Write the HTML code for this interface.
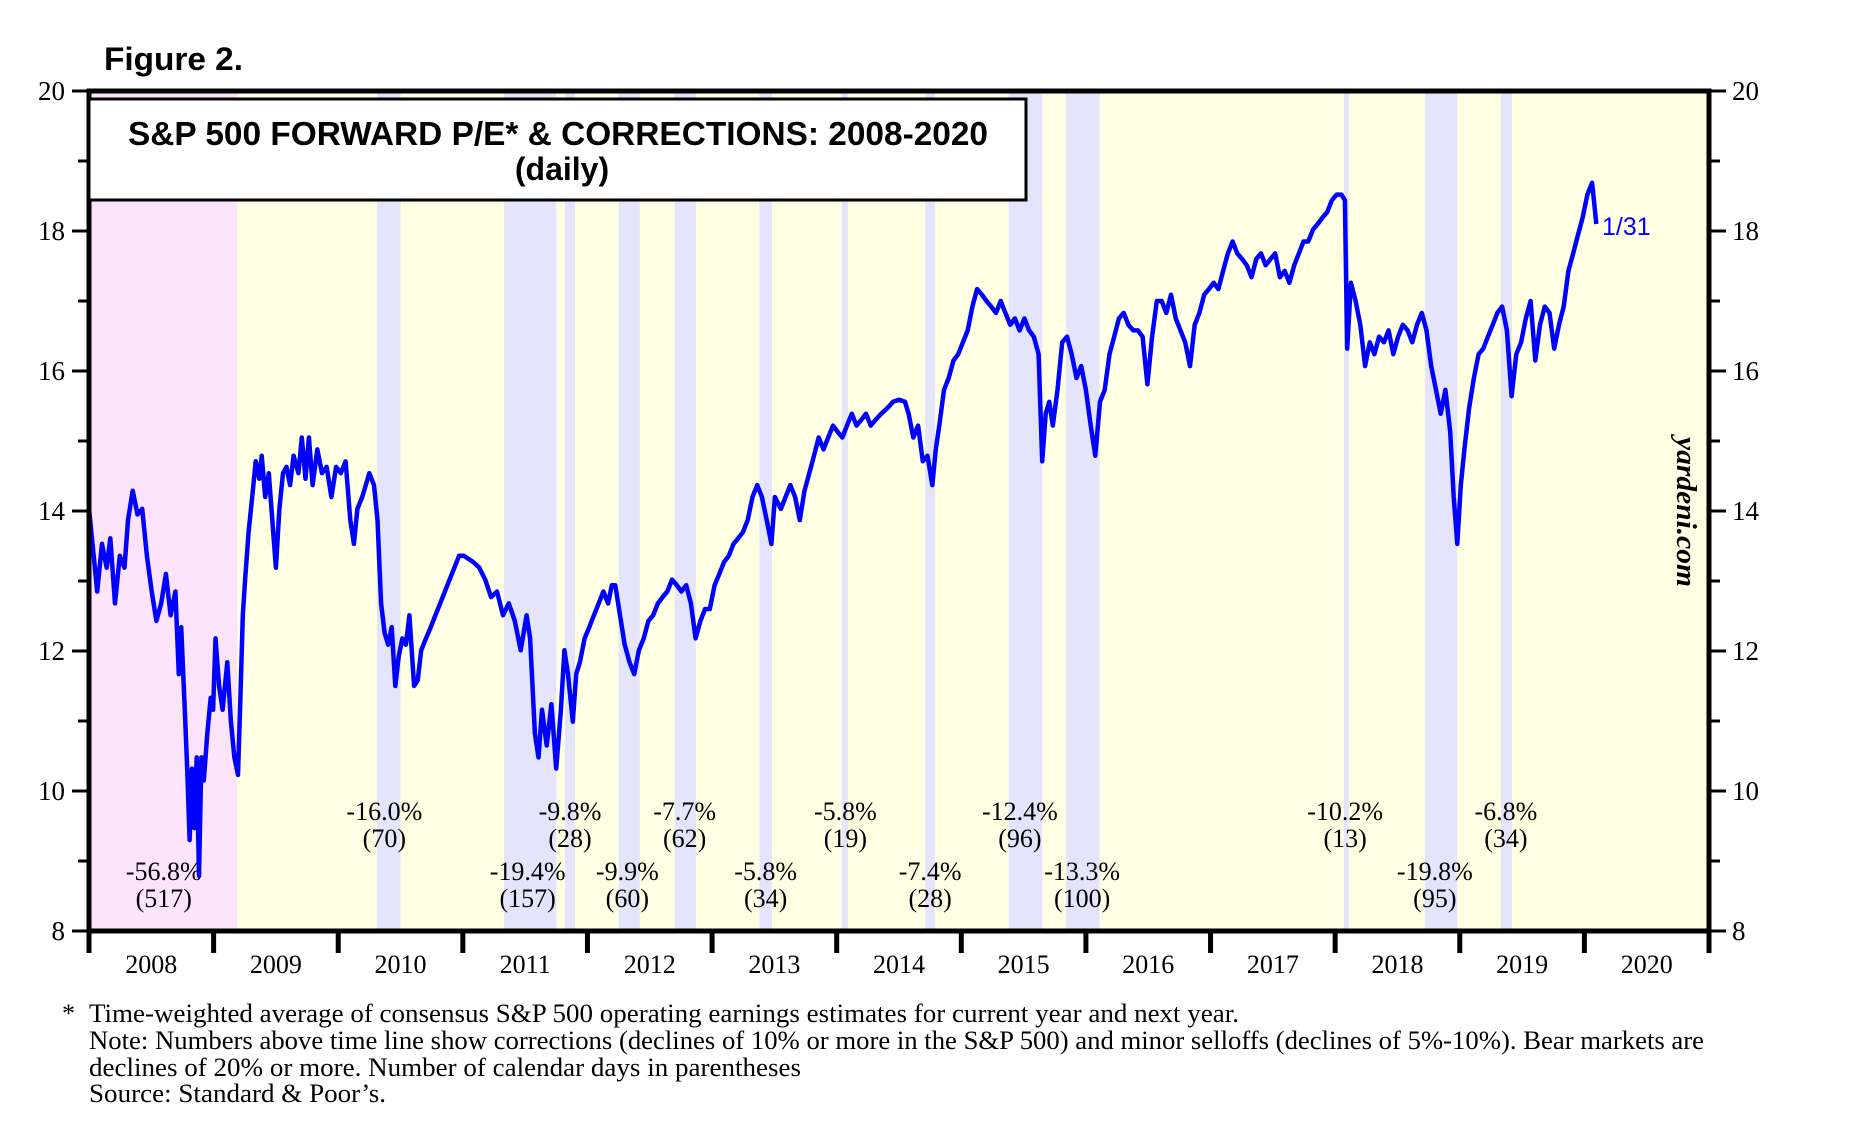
<!DOCTYPE html>
<html><head><meta charset="utf-8"><style>
html,body{margin:0;padding:0;background:#fff;}
svg{display:block;}
</style></head><body>
<svg id="chart" width="1854" height="1125" viewBox="0 0 1854 1125" xmlns="http://www.w3.org/2000/svg" font-family="'Liberation Serif', serif">
<text x="104" y="70" font-family="'Liberation Sans', sans-serif" font-weight="bold" font-size="32" textLength="139" lengthAdjust="spacingAndGlyphs">Figure 2.</text>
<g id="bg"></g>
<g id="grid"></g>
<g id="ann"></g>
<g id="series"></g>
<rect x="89" y="91" width="1620" height="840" fill="none" stroke="#000" stroke-width="5"/>
<rect x="89" y="99" width="937" height="101" fill="#fff" stroke="#000" stroke-width="3"/>
<text x="558" y="145" text-anchor="middle" font-family="'Liberation Sans', sans-serif" font-weight="bold" font-size="33" textLength="860" lengthAdjust="spacingAndGlyphs">S&amp;P 500 FORWARD P/E* &amp; CORRECTIONS: 2008-2020</text>
<text x="562" y="180" text-anchor="middle" font-family="'Liberation Sans', sans-serif" font-weight="bold" font-size="32">(daily)</text>
<text x="1602" y="235" fill="#0000ff" font-family="'Liberation Sans', sans-serif" font-size="25">1/31</text>
<text transform="translate(1677,512) rotate(90)" text-anchor="middle" font-weight="bold" font-style="italic" font-size="28" textLength="150" lengthAdjust="spacingAndGlyphs">yardeni.com</text>
<g font-size="26">
<text x="62" y="1022">*</text>
<text x="89" y="1022" textLength="1150" lengthAdjust="spacingAndGlyphs">Time-weighted average of consensus S&amp;P 500 operating earnings estimates for current year and next year.</text>
<text x="89" y="1049" textLength="1615" lengthAdjust="spacingAndGlyphs">Note: Numbers above time line show corrections (declines of 10% or more in the S&amp;P 500) and minor selloffs (declines of 5%-10%). Bear markets are</text>
<text x="89" y="1076" textLength="712" lengthAdjust="spacingAndGlyphs">declines of 20% or more. Number of calendar days in parentheses</text>
<text x="89" y="1102" textLength="297" lengthAdjust="spacingAndGlyphs">Source: Standard &amp; Poor’s.</text>
</g>
</svg>
<script>
const years = [2008.000,2008.038,2008.066,2008.104,2008.142,2008.171,2008.209,2008.247,2008.285,2008.313,2008.351,2008.389,2008.427,2008.465,2008.503,2008.541,2008.579,2008.617,2008.655,2008.693,2008.721,2008.740,2008.769,2008.788,2008.807,2008.826,2008.845,2008.864,2008.883,2008.902,2008.921,2008.949,2008.977,2008.996,2009.015,2009.044,2009.072,2009.110,2009.139,2009.167,2009.196,2009.215,2009.234,2009.253,2009.281,2009.310,2009.338,2009.367,2009.386,2009.414,2009.443,2009.471,2009.500,2009.528,2009.557,2009.585,2009.614,2009.642,2009.680,2009.708,2009.737,2009.765,2009.794,2009.832,2009.870,2009.907,2009.945,2009.983,2010.021,2010.059,2010.097,2010.126,2010.154,2010.192,2010.221,2010.249,2010.287,2010.315,2010.344,2010.372,2010.401,2010.429,2010.458,2010.486,2010.515,2010.543,2010.571,2010.609,2010.638,2010.666,2010.704,2010.742,2010.780,2010.818,2010.856,2010.894,2010.932,2010.970,2011.008,2011.084,2011.132,2011.179,2011.227,2011.274,2011.322,2011.369,2011.417,2011.464,2011.512,2011.540,2011.578,2011.607,2011.635,2011.673,2011.711,2011.749,2011.787,2011.815,2011.844,2011.882,2011.910,2011.939,2011.977,2012.015,2012.052,2012.090,2012.128,2012.166,2012.195,2012.223,2012.261,2012.299,2012.337,2012.375,2012.413,2012.451,2012.489,2012.527,2012.565,2012.603,2012.641,2012.679,2012.717,2012.754,2012.792,2012.830,2012.868,2012.906,2012.944,2012.982,2013.020,2013.058,2013.096,2013.134,2013.172,2013.210,2013.248,2013.286,2013.324,2013.362,2013.400,2013.438,2013.476,2013.504,2013.552,2013.590,2013.628,2013.666,2013.704,2013.742,2013.780,2013.818,2013.856,2013.894,2013.932,2013.970,2014.008,2014.045,2014.083,2014.121,2014.159,2014.197,2014.235,2014.273,2014.311,2014.358,2014.406,2014.453,2014.501,2014.548,2014.577,2014.615,2014.653,2014.691,2014.729,2014.767,2014.795,2014.823,2014.861,2014.899,2014.937,2014.975,2015.013,2015.051,2015.089,2015.127,2015.165,2015.202,2015.240,2015.278,2015.316,2015.354,2015.392,2015.430,2015.468,2015.506,2015.544,2015.582,2015.620,2015.649,2015.677,2015.706,2015.734,2015.772,2015.810,2015.848,2015.886,2015.924,2015.962,2016.000,2016.038,2016.075,2016.113,2016.151,2016.189,2016.227,2016.265,2016.303,2016.341,2016.379,2016.417,2016.455,2016.493,2016.531,2016.569,2016.607,2016.645,2016.683,2016.721,2016.759,2016.797,2016.835,2016.873,2016.911,2016.949,2016.987,2017.025,2017.063,2017.101,2017.139,2017.177,2017.215,2017.253,2017.291,2017.329,2017.367,2017.405,2017.443,2017.481,2017.519,2017.557,2017.595,2017.633,2017.671,2017.709,2017.746,2017.784,2017.822,2017.860,2017.898,2017.936,2017.974,2018.012,2018.050,2018.078,2018.097,2018.126,2018.164,2018.202,2018.240,2018.278,2018.315,2018.353,2018.391,2018.429,2018.467,2018.505,2018.543,2018.581,2018.619,2018.657,2018.695,2018.733,2018.771,2018.809,2018.847,2018.885,2018.923,2018.951,2018.980,2019.008,2019.037,2019.075,2019.113,2019.151,2019.189,2019.226,2019.264,2019.302,2019.340,2019.378,2019.416,2019.454,2019.492,2019.530,2019.568,2019.606,2019.644,2019.682,2019.720,2019.758,2019.796,2019.834,2019.872,2019.910,2019.948,2019.986,2020.024,2020.062,2020.081,2020.096];
const peValues = [14.03,13.36,12.85,13.53,13.19,13.61,12.68,13.36,13.19,13.87,14.29,13.95,14.03,13.36,12.85,12.43,12.68,13.10,12.51,12.85,11.67,12.34,11.16,10.32,9.30,10.32,9.47,10.48,8.79,10.48,10.15,10.82,11.33,11.16,12.18,11.50,11.16,11.84,10.99,10.48,10.23,11.33,12.51,13.02,13.70,14.20,14.71,14.46,14.79,14.20,14.54,13.87,13.19,14.03,14.54,14.63,14.37,14.79,14.54,15.05,14.46,15.05,14.37,14.88,14.54,14.63,14.20,14.63,14.54,14.71,13.87,13.53,14.03,14.20,14.37,14.54,14.37,13.87,12.68,12.26,12.09,12.34,11.50,11.93,12.18,12.09,12.51,11.50,11.58,12.01,12.18,12.34,12.51,12.68,12.85,13.02,13.19,13.36,13.36,13.27,13.19,13.02,12.77,12.85,12.51,12.68,12.43,12.01,12.51,12.18,10.82,10.48,11.16,10.65,11.24,10.32,11.16,12.01,11.67,10.99,11.67,11.84,12.18,12.34,12.51,12.68,12.85,12.68,12.94,12.94,12.51,12.09,11.84,11.67,12.01,12.18,12.43,12.51,12.68,12.77,12.85,13.02,12.94,12.85,12.94,12.68,12.18,12.43,12.60,12.60,12.94,13.10,13.27,13.36,13.53,13.61,13.70,13.87,14.20,14.37,14.20,13.87,13.53,14.20,14.03,14.20,14.37,14.20,13.87,14.29,14.54,14.79,15.05,14.88,15.05,15.22,15.13,15.05,15.22,15.39,15.22,15.30,15.39,15.22,15.30,15.39,15.47,15.56,15.59,15.56,15.39,15.05,15.22,14.71,14.79,14.37,14.88,15.22,15.73,15.90,16.15,16.24,16.41,16.58,16.92,17.17,17.09,17.00,16.92,16.83,17.00,16.83,16.66,16.75,16.58,16.75,16.58,16.49,16.24,14.71,15.39,15.56,15.22,15.73,16.41,16.49,16.24,15.90,16.07,15.73,15.22,14.79,15.56,15.73,16.24,16.49,16.75,16.83,16.66,16.58,16.58,16.49,15.81,16.49,17.00,17.00,16.83,17.09,16.75,16.58,16.41,16.07,16.66,16.83,17.09,17.17,17.26,17.17,17.43,17.68,17.85,17.68,17.60,17.51,17.34,17.60,17.68,17.51,17.60,17.68,17.34,17.43,17.26,17.51,17.68,17.85,17.85,18.02,18.10,18.19,18.27,18.44,18.52,18.52,18.44,16.32,17.26,17.00,16.66,16.07,16.41,16.24,16.49,16.41,16.58,16.24,16.49,16.66,16.58,16.41,16.66,16.83,16.58,16.07,15.73,15.39,15.73,15.13,14.20,13.53,14.37,14.88,15.47,15.90,16.24,16.32,16.49,16.66,16.83,16.92,16.58,15.64,16.24,16.41,16.75,17.00,16.15,16.66,16.92,16.83,16.32,16.66,16.92,17.43,17.68,17.94,18.19,18.52,18.69,18.36,18.10];
const bandStart = [2010.31,2011.33,2011.82,2012.25,2012.70,2013.38,2014.04,2014.71,2015.38,2015.84,2018.07,2018.72,2019.33];
const bandEnd =   [2010.50,2011.75,2011.90,2012.42,2012.87,2013.48,2014.09,2014.79,2015.65,2016.11,2018.11,2018.98,2019.42];
const bearStart = 2008.0, bearEnd = 2009.19;
const annPct  = ["-56.8%","-16.0%","-19.4%","-9.8%","-9.9%","-7.7%","-5.8%","-5.8%","-7.4%","-12.4%","-13.3%","-10.2%","-19.8%","-6.8%"];
const annDays = ["(517)","(70)","(157)","(28)","(60)","(62)","(34)","(19)","(28)","(96)","(100)","(13)","(95)","(34)"];
const annYear = [2008.60,2010.37,2011.52,2011.86,2012.32,2012.78,2013.43,2014.07,2014.75,2015.47,2015.97,2018.08,2018.80,2019.37];
const annRow  = [1,0,1,0,1,0,1,0,1,0,1,0,1,0];
const yearLabels = ["2008","2009","2010","2011","2012","2013","2014","2015","2016","2017","2018","2019","2020"];
const yTicks = [8,10,12,14,16,18,20];

const X0=89, X1=1709, Y0=931, Y1=91, XMIN=2008, XMAX=2021, VMIN=8, VMAX=20;
const xs = t => X0 + (t-XMIN)/(XMAX-XMIN)*(X1-X0);
const ys = v => Y0 - (v-VMIN)/(VMAX-VMIN)*(Y0-Y1);
const NS="http://www.w3.org/2000/svg";
function mk(tag, attrs, parent){const e=document.createElementNS(NS,tag);for(const k in attrs)e.setAttribute(k,attrs[k]);parent.appendChild(e);return e;}
const bg=document.getElementById('bg'), grid=document.getElementById('grid'), ann=document.getElementById('ann'), ser=document.getElementById('series');

let r=mk('rect',{x:X0,y:Y1,width:X1-X0,height:Y0-Y1,fill:'#ffffe4'},bg);


r=mk('rect',{x:xs(bearStart),y:Y1,width:xs(bearEnd)-xs(bearStart),height:Y0-Y1,fill:'#fce4fc'},bg);


for(let i=0;i<bandStart.length;i++){
  const b=mk('rect',{x:xs(bandStart[i]),y:Y1,width:xs(bandEnd[i])-xs(bandStart[i]),height:Y0-Y1,fill:'#e4e4fc'},bg);
  
  
}
for(let v=VMIN; v<=VMAX; v++){
  const y=ys(v), major=(v%2===0);
  const l=mk('line',{x1:X0-(major?17:11),x2:X0,y1:y,y2:y,stroke:'#000','stroke-width':3},grid);
  
  
  const rr=mk('line',{x1:X1,x2:X1+(major?17:11),y1:y,y2:y,stroke:'#000','stroke-width':3},grid);
  
  
}
yTicks.forEach(v=>{
  const t=mk('text',{x:X0-24,y:ys(v)+9,'text-anchor':'end','font-size':27},grid);
  t.textContent=v;
  
  
  const t2=mk('text',{x:X1+23,y:ys(v)+9,'font-size':27},grid);
  t2.textContent=v;
  
  
});
yearLabels.forEach((lab,i)=>{
  const yr=XMIN+i;
  const tk=mk('line',{x1:xs(yr),x2:xs(yr),y1:Y0,y2:Y0+22,stroke:'#000','stroke-width':5},grid);
  
  
  const t=mk('text',{x:xs(yr+0.5),y:Y0+42,'text-anchor':'middle','font-size':26},grid);
  t.textContent=lab;
  
  
});
const tkEnd=mk('line',{x1:X1,x2:X1,y1:Y0,y2:Y0+22,stroke:'#000','stroke-width':5},grid);



for(let i=0;i<annPct.length;i++){
  const base = annRow[i]===0 ? 820 : 880;
  const t=mk('text',{x:xs(annYear[i]),y:base,'text-anchor':'middle','font-size':26},ann);
  t.textContent=annPct[i];
  
  
  const t2=mk('text',{x:xs(annYear[i]),y:base+27,'text-anchor':'middle','font-size':26},ann);
  t2.textContent=annDays[i];
  
  
}

let d='';
for(let i=0;i<years.length;i++){d+=(i?'L':'M')+xs(years[i]).toFixed(1)+','+ys(peValues[i]).toFixed(1);}
const p=mk('path',{d:d,fill:'none',stroke:'#0000ff','stroke-width':4.5,'stroke-linejoin':'round'},ser);


</script>
</body></html>
